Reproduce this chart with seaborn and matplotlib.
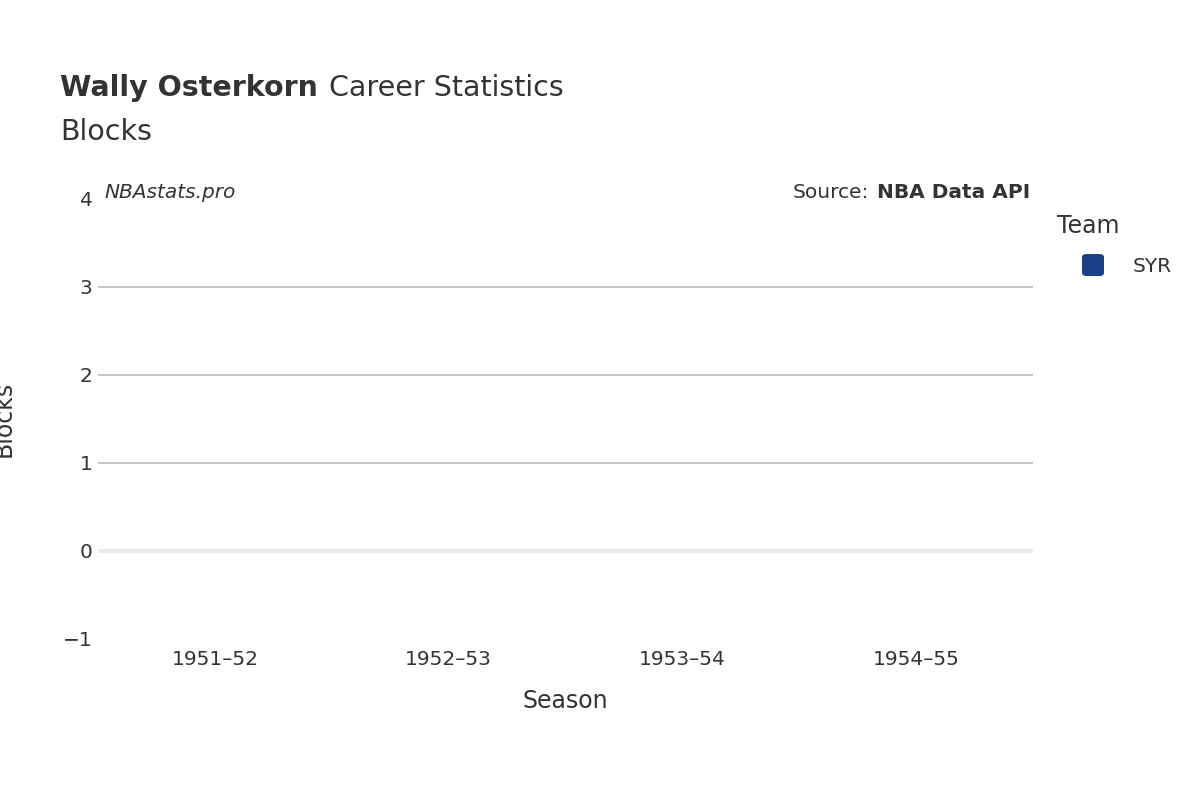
import matplotlib
matplotlib.use("Agg")
import matplotlib.pyplot as plt
import seaborn as sns
import pandas as pd
from matplotlib.patches import FancyBboxPatch

seasons = ["1951–52", "1952–53", "1953–54", "1954–55"]
blocks = [0, 0, 0, 0]
teams = ["SYR", "SYR", "SYR", "SYR"]
team_colors = {"SYR": "#1a4087"}

df = pd.DataFrame({"Season": seasons, "Blocks": blocks, "Team": teams})

sns.set_theme(style="white")
plt.rcParams['font.family'] = ['DejaVu Sans']
fig = plt.figure(figsize=(12, 8), dpi=100)
ax = fig.add_axes([98/1200, 161/800, (1033-98)/1200, 440/800])
sns.barplot(data=df, x="Season", y="Blocks", hue="Team", palette=team_colors, ax=ax,
            legend=False, linewidth=0)
ax.set_ylim(-1, 4)
ax.set_yticks([-1, 0, 1, 2, 3, 4])
ax.set_yticklabels(["−1", "0", "1", "2", "3", "4"])
for v in [1, 2, 3]:
    ax.axhline(v, color="#c0c0c0", lw=1.3, zorder=0)
ax.axhline(0, color="#ebebeb", lw=3, zorder=0)
for s in ax.spines.values():
    s.set_visible(False)
ax.tick_params(axis="both", length=0, labelsize=14.5, colors="#333333", pad=4)
ax.tick_params(axis="x", pad=8)
ax.set_xlabel("Season", fontsize=17, color="#333333", labelpad=14)
ax.set_ylabel("Blocks", fontsize=17, color="#333333", labelpad=34)

fig.canvas.draw()
r = fig.canvas.get_renderer()
t1 = fig.text(60/1200, 1-88/800, "Wally Osterkorn", fontsize=20.5, fontweight="bold", color="#333333", va="center")
bb = t1.get_window_extent(r)
fig.text((bb.x1 + 11)/1200, 1-88/800, "Career Statistics", fontsize=20.5, color="#333333", va="center")
fig.text(60/1200, 1-132/800, "Blocks", fontsize=20.5, color="#333333", va="center")
fig.text(104/1200, 1-192/800, "NBAstats.pro", fontsize=14.5, style="italic", color="#333333", va="center")
t2 = fig.text(1030/1200, 1-192/800, "NBA Data API", fontsize=14.5, fontweight="bold", color="#333333", va="center", ha="right")
bb2 = t2.get_window_extent(r)
fig.text((bb2.x0 - 8)/1200, 1-192/800, "Source:", fontsize=14.5, color="#333333", va="center", ha="right")
fig.text(1057/1200, 1-226/800, "Team", fontsize=17, color="#333333", va="center")
fig.patches.append(FancyBboxPatch((1082/1200, 1-276/800), 22/1200, 22/800,
    boxstyle="round,pad=0,rounding_size=0.004", transform=fig.transFigure,
    facecolor="#1a4087", edgecolor="none"))
fig.text(1133/1200, 1-266/800, "SYR", fontsize=14.5, color="#333333", va="center")

fig.savefig("out.png", dpi=100)
